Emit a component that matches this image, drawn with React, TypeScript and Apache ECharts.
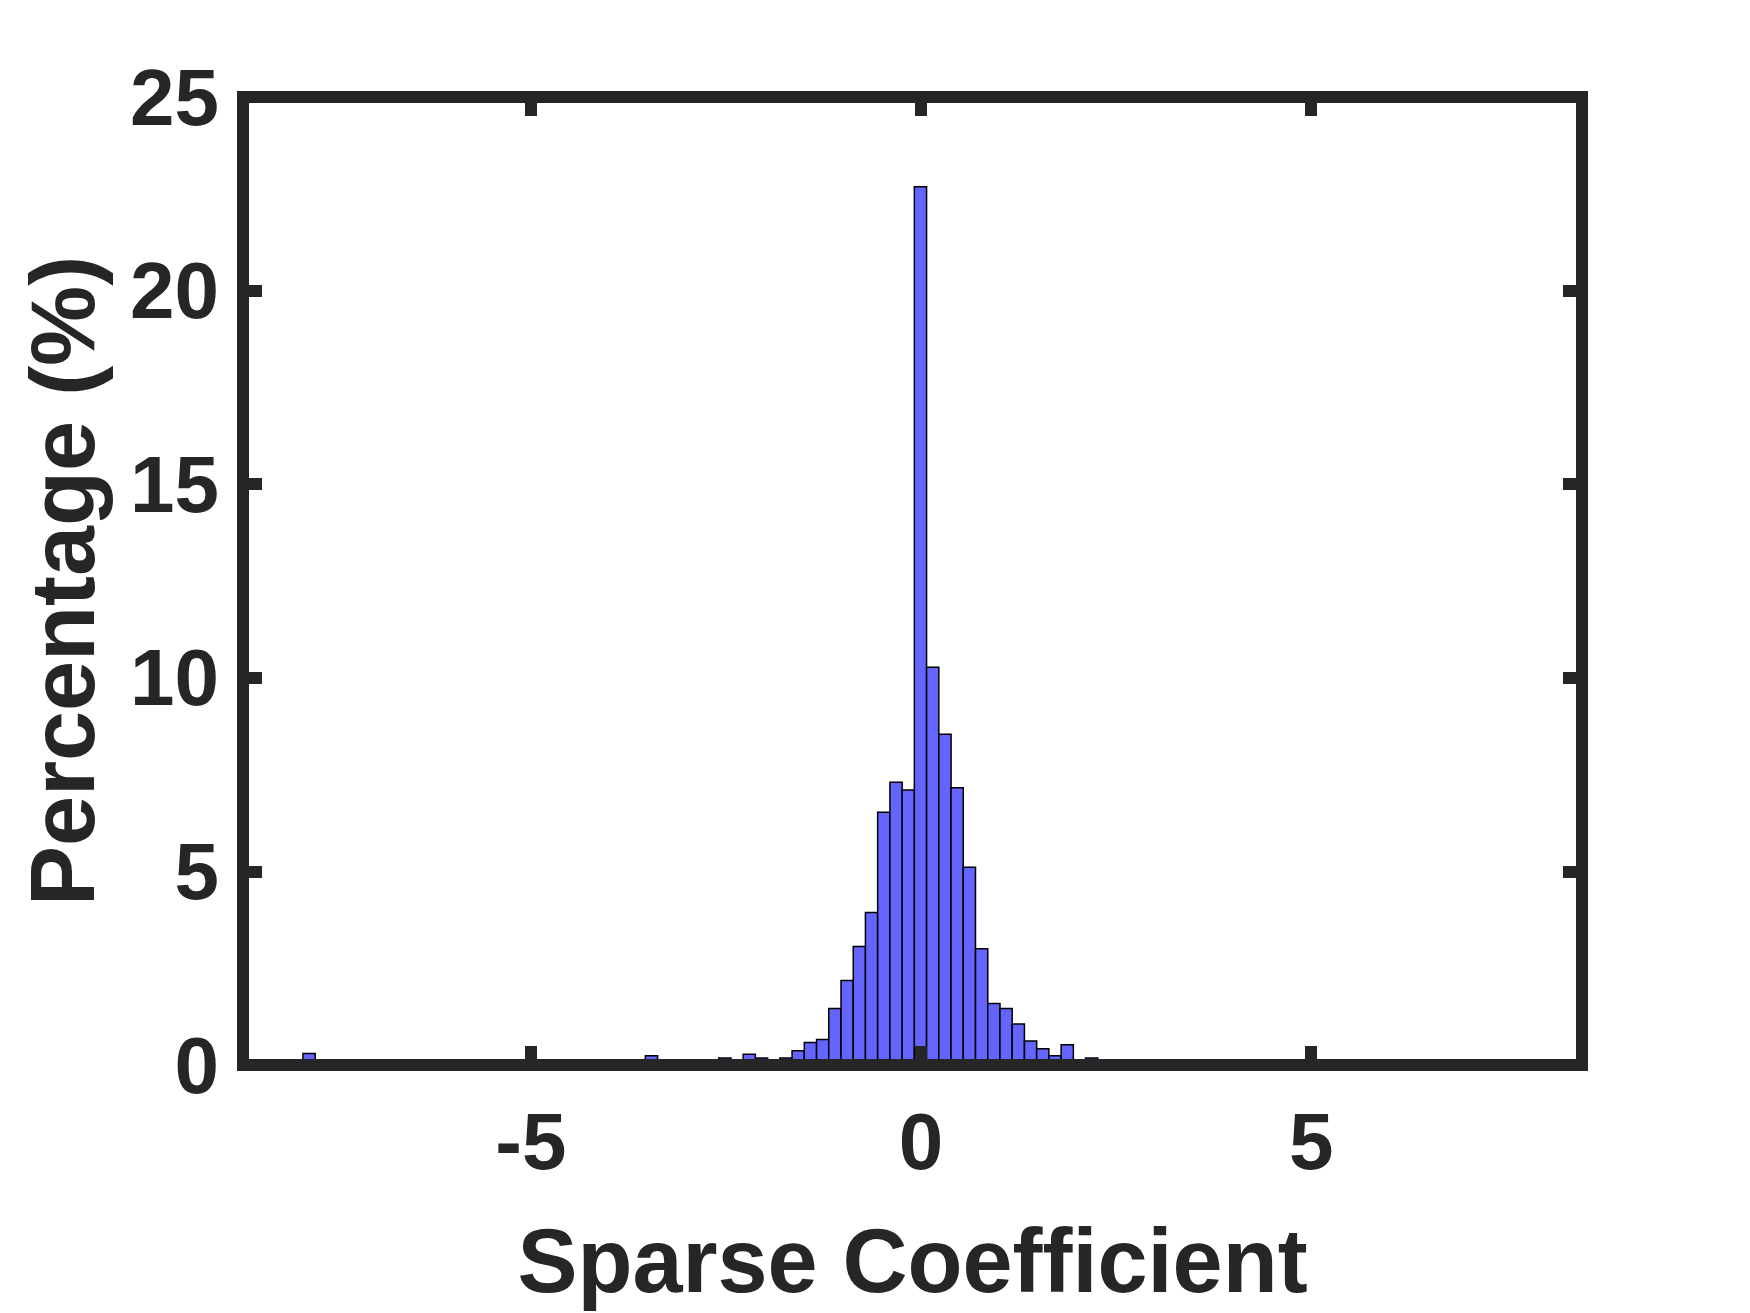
import React, { useEffect, useRef } from "react";
import * as echarts from "echarts";

// Histogram of sparse coefficients (percentage per bin)
const binWidth = 0.1567;
const binCenters = [
  -7.843, -3.455, -2.515, -2.202, -2.045, -1.732, -1.575, -1.418, -1.261, -1.105,
  -0.948, -0.791, -0.635, -0.478, -0.321, -0.164, -0.008, 0.149, 0.306, 0.462,
  0.619, 0.776, 0.933, 1.089, 1.246, 1.403, 1.559, 1.716, 1.873, 2.186,
];
const percentages = [
  0.3, 0.24, 0.18, 0.28, 0.18, 0.18, 0.37, 0.58, 0.66, 1.46,
  2.18, 3.06, 3.94, 6.53, 7.3, 7.1, 22.68, 10.27, 8.54, 7.16,
  5.11, 3.0, 1.59, 1.46, 1.06, 0.62, 0.42, 0.24, 0.52, 0.18,
];
const xTicks = [-5, 0, 5];
const xMin = -8.69;
const xMax = 8.47;
const yMin = 0;
const yMax = 25;
const yInterval = 5;

const INK = "#262626";
const FONT = "Liberation Sans, Arial, sans-serif";

export default function App() {
  const ref = useRef<HTMLDivElement>(null);
  useEffect(() => {
    if (!ref.current) return;
    const chart = echarts.init(ref.current, null, { renderer: "svg" });
    const data = binCenters.map((c, i) => [c - binWidth / 2, c + binWidth / 2, percentages[i]]);
    const axisLine = { show: true, onZero: false, lineStyle: { color: INK, width: 12, cap: "square" } };
    const tick = { show: true, inside: true, length: 19, lineStyle: { color: INK, width: 12 } };
    const labelStyle = { fontSize: 80, fontWeight: "bold", fontFamily: FONT, color: INK };
    const nameStyle = { fontSize: 90, fontWeight: "bold", fontFamily: FONT, color: INK };
    chart.setOption({
      animation: false,
      backgroundColor: "#ffffff",
      grid: { left: 243, top: 97, width: 1339, height: 968, containLabel: false },
      xAxis: [
        {
          type: "value",
          position: "bottom",
          min: xMin,
          max: xMax,
          z: 10,
          axisLine,
          axisTick: { ...tick, customValues: xTicks },
          axisLabel: { ...labelStyle, margin: 36, customValues: xTicks },
          splitLine: { show: false },
          name: "Sparse Coefficient",
          nameLocation: "middle",
          nameGap: 151,
          nameTextStyle: nameStyle,
        },
        {
          type: "value",
          position: "top",
          min: xMin,
          max: xMax,
          z: 10,
          axisLine,
          axisTick: { ...tick, customValues: xTicks },
          axisLabel: { show: false },
          splitLine: { show: false },
        },
      ],
      yAxis: [
        {
          type: "value",
          position: "left",
          min: yMin,
          max: yMax,
          interval: yInterval,
          z: 10,
          axisLine,
          axisTick: tick,
          axisLabel: { ...labelStyle, margin: 24, padding: [12, 0, 0, 0] },
          splitLine: { show: false },
          name: "Percentage (%)",
          nameLocation: "middle",
          nameRotate: 90,
          nameGap: 135,
          nameTextStyle: nameStyle,
        },
        {
          type: "value",
          position: "right",
          min: yMin,
          max: yMax,
          interval: yInterval,
          z: 10,
          axisLine,
          axisTick: tick,
          axisLabel: { show: false },
          splitLine: { show: false },
        },
      ],
      series: [
        {
          type: "custom",
          xAxisIndex: 0,
          yAxisIndex: 0,
          encode: { x: [0, 1], y: 2 },
          data,
          renderItem: (params: any, api: any) => {
            const p0 = api.coord([api.value(0), api.value(2)]);
            const p1 = api.coord([api.value(1), 0]);
            return {
              type: "rect",
              shape: { x: p0[0], y: p0[1], width: p1[0] - p0[0], height: p1[1] - p0[1] },
              style: { fill: "#6464ff", stroke: "#000000", lineWidth: 1.5 },
            };
          },
        },
      ],
    });
    return () => chart.dispose();
  }, []);
  return (
    <div
      ref={ref}
      style={{ position: "fixed", left: 0, top: 0, width: "1750px", height: "1313px", background: "#fff" }}
    />
  );
}
